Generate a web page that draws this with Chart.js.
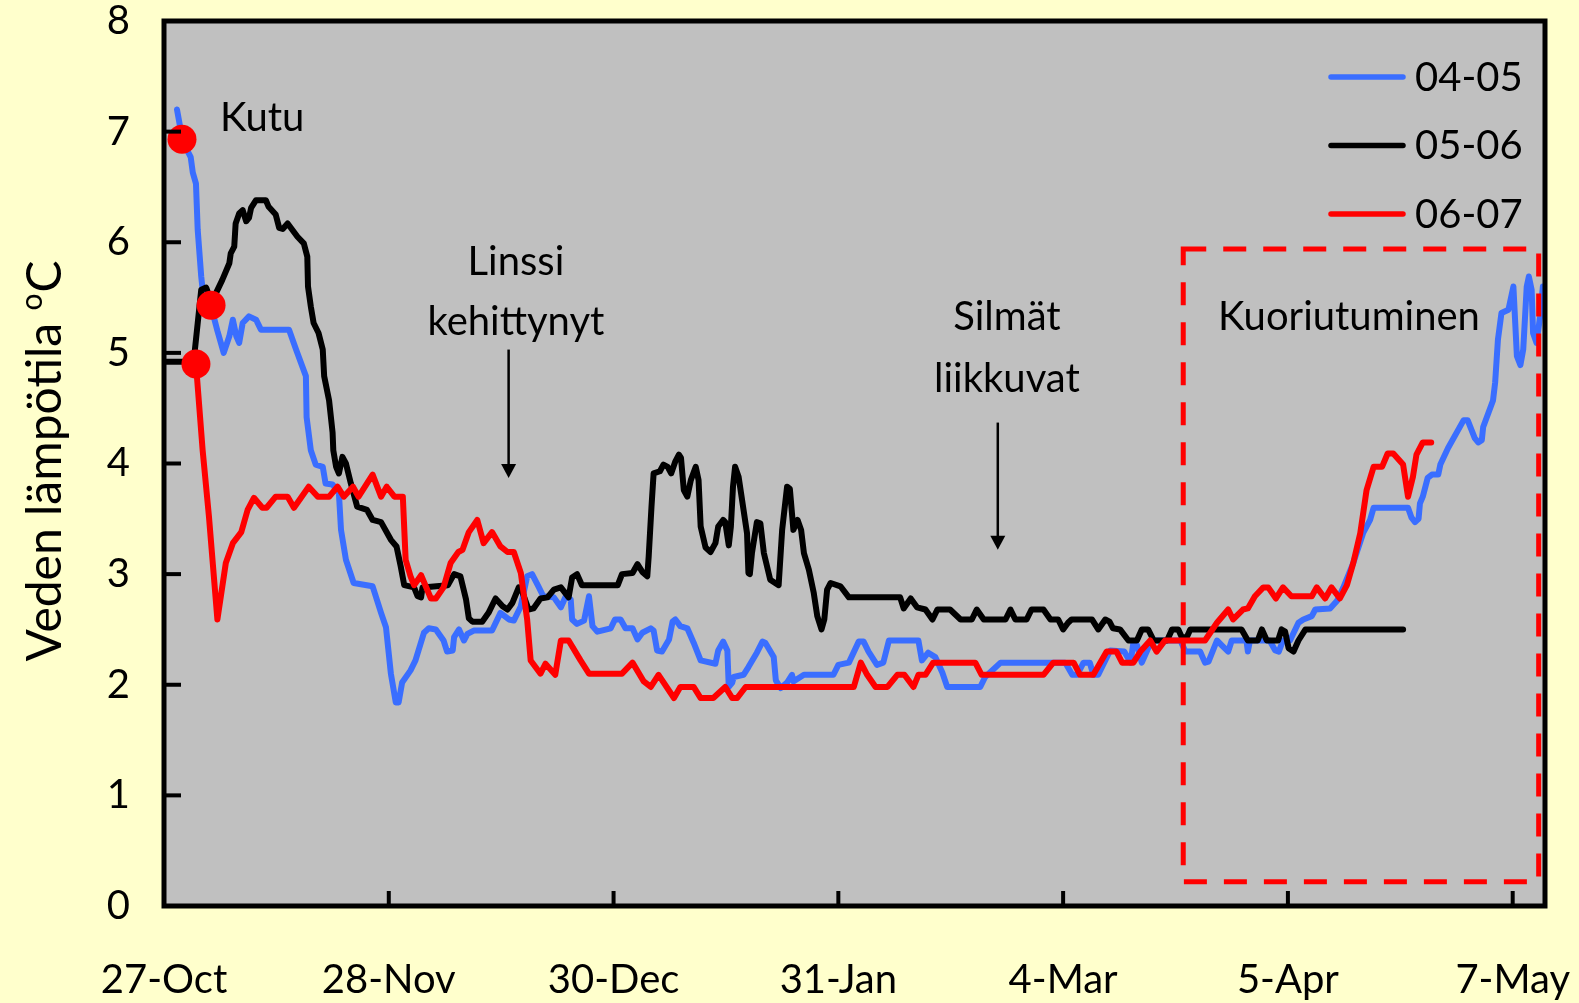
<!DOCTYPE html>
<html>
<head>
<meta charset="utf-8">
<script src="https://cdn.jsdelivr.net/npm/chart.js@4.4.1/dist/chart.umd.min.js"></script>
<style>
html,body{margin:0;padding:0;background:#FFFFCC;overflow:hidden;}
canvas{display:block;}
</style>
</head>
<body>
<canvas id="c" width="1579" height="1003"></canvas>
<script>
// X values are days since 27-Oct
const tickDays = [0, 32, 64, 96, 128, 160, 192];
const tickLabels = ['27-Oct', '28-Nov', '30-Dec', '31-Jan', '4-Mar', '5-Apr', '7-May'];
const yTicks = [0, 1, 2, 3, 4, 5, 6, 7, 8];
const seriesNames = ['04-05', '05-06', '06-07'];

const days0405 = [1.85,2.56,3.4,3.8,4.1,4.55,4.8,5.3,5.5,6.7,7.6,8.5,9.3,9.8,10.3,10.7,11.2,12.1,13.1,13.8,17.8,18.8,20.2,20.3,20.9,21.6,22.6,23.0,24.0,24.9,25.2,25.9,27.0,29.7,30.9,31.6,32.3,33.0,33.4,33.9,35.1,35.8,37.0,37.7,38.7,39.8,40.3,41.1,41.3,42.0,42.7,43.2,44.1,46.7,47.9,49.1,49.8,50.8,51.7,52.4,53.3,54.0,55.5,56.5,57.2,57.9,58.1,58.8,59.8,60.5,61.0,61.7,63.6,64.2,65.0,65.7,66.7,67.4,68.1,69.3,69.7,70.2,70.9,71.9,72.4,72.8,73.5,74.5,75.4,76.4,78.5,78.9,79.6,80.2,80.4,80.9,81.1,82.5,83.2,84.4,85.2,85.6,86.8,87.1,87.8,88.7,89.4,89.6,91.1,95.3,96.0,97.5,98.9,99.6,100.3,101.5,102.4,103.2,107.4,107.9,108.8,109.8,110.8,111.5,116.2,116.9,119.1,128.3,129.3,130.0,130.9,131.8,132.3,133.0,134.7,136.7,137.6,138.0,138.5,139.2,139.9,140.6,144.7,145.4,147.5,148.2,148.7,149.9,150.7,151.5,152.0,154.1,154.3,154.6,157.4,158.2,158.7,159.3,160.3,161.5,162.2,163.4,163.9,166.0,167.0,167.9,169.3,170.7,171.7,172.2,177.1,177.6,178.1,178.6,178.8,179.2,179.9,180.5,181.4,181.7,182.8,185.0,185.6,186.6,187.1,187.6,187.8,189.2,189.5,189.9,190.4,191.4,192.1,192.6,193.1,193.5,194.0,194.3,194.7,194.9,195.4,195.9,196.3];
const temps0405 = [7.2,6.95,6.82,6.77,6.63,6.53,6.11,5.69,5.57,5.42,5.2,5.0,5.15,5.3,5.15,5.09,5.27,5.33,5.3,5.21,5.21,5.03,4.79,4.42,4.12,3.99,3.97,3.82,3.81,3.73,3.40,3.13,2.92,2.89,2.65,2.52,2.1,1.84,1.84,2.02,2.13,2.22,2.47,2.51,2.5,2.4,2.3,2.31,2.43,2.5,2.4,2.46,2.49,2.49,2.65,2.59,2.58,2.71,2.98,3.0,2.89,2.8,2.79,2.7,2.8,2.77,2.59,2.55,2.58,2.8,2.53,2.48,2.51,2.59,2.59,2.51,2.51,2.41,2.47,2.51,2.49,2.31,2.3,2.41,2.57,2.59,2.53,2.51,2.38,2.22,2.19,2.31,2.39,2.31,1.98,2.02,2.07,2.09,2.16,2.29,2.39,2.38,2.25,2.04,1.97,2.02,2.09,2.03,2.09,2.09,2.18,2.2,2.39,2.39,2.3,2.18,2.2,2.4,2.4,2.22,2.29,2.25,2.11,1.98,1.98,2.07,2.2,2.2,2.09,2.09,2.2,2.2,2.09,2.09,2.31,2.3,2.2,2.38,2.36,2.2,2.3,2.4,2.4,2.3,2.3,2.2,2.21,2.4,2.35,2.3,2.4,2.4,2.3,2.4,2.4,2.31,2.3,2.4,2.4,2.56,2.59,2.62,2.68,2.69,2.76,2.88,3.1,3.37,3.49,3.6,3.6,3.51,3.47,3.5,3.64,3.7,3.87,3.9,3.9,3.99,4.14,4.39,4.39,4.23,4.19,4.21,4.33,4.57,4.73,5.12,5.36,5.39,5.6,4.97,4.89,5.03,5.6,5.69,5.57,5.18,5.09,5.33,5.6];

const days0506 = [0,3.9,4.3,4.8,5.3,6.0,6.5,7.4,8.3,9.3,9.5,10.0,10.2,10.7,11.2,11.7,12.1,12.4,13.1,14.5,14.9,15.9,16.4,16.9,17.6,19.0,19.9,20.4,20.5,20.9,21.3,22.0,22.6,22.8,23.5,24.0,24.1,24.5,24.9,25.4,25.9,26.6,27.5,28.9,29.7,30.9,32.3,33.1,33.7,34.2,35.6,36.1,36.6,36.8,40.4,41.3,42.2,43.0,43.4,43.9,45.3,46.2,47.2,48.2,48.9,49.6,50.5,51.0,51.9,52.6,53.6,54.6,55.5,56.5,57.6,58.1,58.8,59.5,64.6,65.2,66.7,67.4,68.1,68.8,69.0,69.4,69.7,70.6,71.1,71.7,72.2,72.8,73.3,73.6,74.0,74.5,75.0,75.7,76.1,76.4,77.1,77.8,78.5,78.9,79.6,79.9,80.4,80.7,81.0,81.3,81.8,83.0,83.2,83.4,83.7,84.4,84.9,85.4,86.3,87.5,88.0,88.7,89.1,89.6,90.2,90.7,91.1,91.8,92.5,93.0,93.6,94.0,94.4,94.9,96.3,97.5,104.8,105.3,106.3,107.2,108.4,109.4,110.1,111.9,113.4,115.0,115.7,116.7,119.8,120.5,121.2,122.8,123.5,125.2,126.2,127.3,128.0,128.7,129.2,132.1,133.0,134.0,134.6,135.1,136.1,137.3,138.5,139.2,140.1,140.9,142.8,143.5,144.4,144.9,145.6,146.1,153.4,154.3,155.7,156.3,157.0,158.6,159.1,159.6,160.1,160.8,161.5,162.5,176.4];
const temps0506 = [4.92,4.92,4.97,5.27,5.57,5.59,5.5,5.54,5.66,5.81,5.9,5.96,6.17,6.26,6.29,6.19,6.22,6.31,6.38,6.38,6.32,6.25,6.13,6.12,6.17,6.05,5.99,5.87,5.6,5.42,5.27,5.18,5.03,4.79,4.57,4.28,4.12,3.97,3.91,4.06,4.0,3.82,3.61,3.58,3.49,3.47,3.31,3.25,3.07,2.9,2.88,2.8,2.79,2.88,2.9,3.0,2.98,2.77,2.6,2.57,2.57,2.65,2.78,2.71,2.68,2.74,2.88,2.84,2.68,2.69,2.78,2.79,2.86,2.88,2.79,2.97,3.0,2.9,2.9,3.0,3.01,3.09,3.02,2.98,3.16,3.61,3.91,3.93,3.99,3.97,3.91,4.02,4.08,4.05,3.76,3.7,3.85,3.97,3.85,3.43,3.24,3.2,3.28,3.43,3.49,3.47,3.26,3.43,3.79,3.97,3.88,3.37,3.01,3.0,3.19,3.47,3.46,3.19,2.95,2.9,3.4,3.79,3.77,3.4,3.49,3.4,3.19,3.04,2.83,2.62,2.5,2.59,2.86,2.92,2.89,2.79,2.79,2.69,2.78,2.7,2.68,2.59,2.68,2.68,2.59,2.59,2.68,2.59,2.59,2.68,2.59,2.59,2.68,2.68,2.59,2.59,2.5,2.56,2.59,2.59,2.5,2.59,2.57,2.51,2.5,2.4,2.4,2.5,2.5,2.4,2.4,2.5,2.5,2.43,2.43,2.5,2.5,2.4,2.4,2.5,2.4,2.4,2.5,2.48,2.33,2.3,2.4,2.5,2.5];

const days0607 = [4.55,5.5,6.4,7.6,8.8,9.8,11.0,11.9,12.8,14.0,14.6,15.9,17.6,18.5,20.6,21.9,23.5,24.7,25.6,26.9,27.7,29.7,30.9,31.7,32.8,34.0,34.4,35.1,35.6,36.6,38.0,38.7,39.8,40.8,41.9,42.5,43.4,44.6,45.5,46.7,47.9,48.9,49.8,50.8,51.7,52.2,53.6,54.3,55.7,56.5,57.6,59.3,60.5,65.2,66.7,68.3,69.3,70.4,72.6,73.5,75.4,76.4,78.2,79.9,80.9,81.6,82.8,98.2,99.2,100.1,101.3,103.0,104.4,105.4,106.7,107.4,108.4,109.5,115.5,116.4,125.2,126.6,129.5,130.4,132.3,134.2,135.6,136.4,138.0,139.0,140.4,141.3,142.5,148.2,149.9,151.5,152.2,153.6,154.3,155.3,156.5,157.2,158.3,159.3,160.5,163.4,164.1,165.3,166.2,167.4,168.4,169.3,170.3,171.2,172.2,173.4,174.2,175.0,176.4,177.1,177.8,178.3,179.2,180.4];
const temps0607 = [4.9,4.12,3.52,2.59,3.1,3.28,3.38,3.58,3.69,3.6,3.6,3.7,3.7,3.6,3.79,3.7,3.7,3.79,3.7,3.79,3.7,3.9,3.7,3.79,3.7,3.7,3.13,2.98,2.9,2.99,2.78,2.78,2.88,3.1,3.2,3.22,3.38,3.49,3.28,3.38,3.25,3.2,3.2,3.01,2.59,2.22,2.1,2.19,2.09,2.4,2.4,2.22,2.1,2.1,2.2,2.03,1.98,2.09,1.88,1.98,1.98,1.88,1.88,1.98,1.88,1.88,1.98,1.98,2.2,2.09,1.98,1.98,2.09,2.09,1.98,2.09,2.09,2.2,2.2,2.09,2.09,2.2,2.2,2.09,2.09,2.3,2.3,2.2,2.2,2.3,2.4,2.3,2.4,2.4,2.56,2.68,2.59,2.68,2.69,2.8,2.88,2.88,2.78,2.88,2.8,2.8,2.88,2.78,2.88,2.78,2.9,3.1,3.37,3.76,3.97,3.97,4.09,4.09,3.99,3.7,3.88,4.08,4.19,4.19];

// Spawning ("Kutu") markers
const kutuDays = [2.56, 6.7, 4.55];
const kutuTemps = [6.93, 5.43, 4.9];

const colors = { '04-05': '#3A6EFF', '05-06': '#000000', '06-07': '#FF0000' };
const FONT = 'Lato, "Open Sans", sans-serif';

function zip(xs, ys) { return xs.map((x, i) => ({ x: x, y: ys[i] })); }

const lineStyle = { borderWidth: 6, pointRadius: 0, tension: 0, fill: false, borderJoinStyle: 'round', borderCapStyle: 'round' };

const datasets = [
  { label: 'Kutu', data: zip(kutuDays, kutuTemps), showLine: false, pointRadius: 14.5, pointBackgroundColor: '#FF0000', pointBorderWidth: 0, borderColor: '#FF0000', order: 0, isMarker: true },
  Object.assign({ label: seriesNames[2], data: zip(days0607, temps0607), borderColor: colors['06-07'], order: 1 }, lineStyle),
  Object.assign({ label: seriesNames[1], data: zip(days0506, temps0506), borderColor: colors['05-06'], order: 2 }, lineStyle),
  Object.assign({ label: seriesNames[0], data: zip(days0405, temps0405), borderColor: colors['04-05'], order: 3 }, lineStyle)
];

const bgPlugin = {
  id: 'bg',
  beforeDraw(chart) {
    const c = chart.ctx, a = chart.chartArea;
    c.save();
    c.fillStyle = '#FFFFCC';
    c.fillRect(0, 0, chart.width, chart.height);
    c.fillStyle = '#C0C0C0';
    c.fillRect(a.left, a.top, a.right - a.left, a.bottom - a.top);
    c.restore();
  }
};

function arrow(c, x, y1, y2) {
  c.save();
  c.strokeStyle = '#000'; c.fillStyle = '#000'; c.lineWidth = 2.5;
  c.beginPath(); c.moveTo(x, y1); c.lineTo(x, y2 - 12); c.stroke();
  c.beginPath(); c.moveTo(x - 7.5, y2 - 14); c.lineTo(x + 7.5, y2 - 14); c.lineTo(x, y2); c.closePath(); c.fill();
  c.restore();
}

const decoPlugin = {
  id: 'deco',
  afterDatasetsDraw(chart) {
    const c = chart.ctx, a = chart.chartArea;
    const xs = chart.scales.x, ys = chart.scales.y;
    c.save();
    // dashed hatching-period box
    c.strokeStyle = '#FF0000'; c.lineWidth = 5; c.setLineDash([23, 17]);
    const rx1 = xs.getPixelForValue(145.1), rx2 = xs.getPixelForValue(195.7);
    const ry1 = ys.getPixelForValue(5.94), ry2 = ys.getPixelForValue(0.22);
    c.strokeRect(rx1, ry1, rx2 - rx1, ry2 - ry1);
    c.setLineDash([]);
    // frame
    c.strokeStyle = '#000'; c.lineWidth = 5;
    c.strokeRect(a.left, a.top, a.right - a.left, a.bottom - a.top);
    // inside tick marks
    c.lineWidth = 4; c.lineCap = 'butt';
    ys.ticks.forEach(t => {
      const y = ys.getPixelForValue(t.value);
      c.beginPath(); c.moveTo(a.left, y); c.lineTo(a.left + 17, y); c.stroke();
    });
    xs.ticks.forEach(t => {
      const x = xs.getPixelForValue(t.value);
      c.beginPath(); c.moveTo(x, a.bottom); c.lineTo(x, a.bottom - 15); c.stroke();
    });
    // annotations
    c.fillStyle = '#000';
    c.font = '40px ' + FONT;
    c.textAlign = 'center'; c.textBaseline = 'middle';
    const T = (txt, d, v) => c.fillText(txt, xs.getPixelForValue(d), ys.getPixelForValue(v));
    T('Kutu', 13.97, 7.12);
    T('Linssi', 50.1, 5.82);
    T('kehittynyt', 50.1, 5.28);
    T('Silmät', 120.0, 5.32);
    T('liikkuvat', 120.0, 4.76);
    T('Kuoriutuminen', 168.7, 5.32);
    arrow(c, xs.getPixelForValue(49.06), ys.getPixelForValue(5.03), ys.getPixelForValue(3.87));
    arrow(c, xs.getPixelForValue(118.7), ys.getPixelForValue(4.37), ys.getPixelForValue(3.22));
    // legend
    c.textAlign = 'left';
    const legendDs = chart.data.datasets.filter(d => !d.isMarker).sort((p, q) => seriesNames.indexOf(p.label) - seriesNames.indexOf(q.label));
    legendDs.forEach((d, i) => {
      const y = a.top + 56 + i * 68.5;
      c.strokeStyle = d.borderColor; c.lineWidth = 5.5; c.lineCap = 'round';
      c.beginPath(); c.moveTo(a.right - 214, y); c.lineTo(a.right - 142, y); c.stroke();
      c.fillStyle = '#000';
      c.fillText(d.label, a.right - 130, y + 1);
    });
    c.restore();
  },
  afterDraw(chart) {
    const c = chart.ctx, a = chart.chartArea;
    c.save();
    c.fillStyle = '#000';
    const big = '48px ' + FONT, small = '30px ' + FONT;
    c.font = big;
    const t1 = 'Veden lämpötila ', t3 = 'C';
    const w1 = c.measureText(t1).width, w3 = c.measureText(t3).width;
    c.font = small;
    const w2 = c.measureText('o').width;
    const total = w1 + w2 + w3;
    c.translate(61, (a.top + a.bottom) / 2 - 2);
    c.rotate(-Math.PI / 2);
    c.textBaseline = 'alphabetic'; c.textAlign = 'left';
    let x = -total / 2;
    c.font = big; c.fillText(t1, x, 0); x += w1;
    c.font = small; c.fillText('o', x, -19); x += w2 + 1;
    c.font = big; c.fillText(t3, x, 0);
    c.restore();
  }
};

function noPad(s) { s.paddingTop = 0; s.paddingBottom = 0; s.paddingLeft = 0; s.paddingRight = 0; }

new Chart(document.getElementById('c').getContext('2d'), {
  type: 'line',
  data: { datasets: datasets },
  options: {
    responsive: false,
    animation: false,
    devicePixelRatio: 1,
    layout: { padding: { top: 21, right: 34, left: 0, bottom: 0 } },
    plugins: { legend: { display: false }, tooltip: { enabled: false } },
    scales: {
      x: {
        type: 'linear', min: 0, max: 196.6,
        afterBuildTicks: s => { s.ticks = tickDays.map(v => ({ value: v })); },
        afterFit: s => { s.height = 97; noPad(s); },
        grid: { display: false, drawTicks: false },
        border: { display: false },
        ticks: { autoSkip: false, maxRotation: 0, padding: 50, color: '#000', font: { family: FONT, size: 40 }, callback: (v, i) => tickLabels[i] }
      },
      y: {
        type: 'linear', min: 0, max: 8,
        afterBuildTicks: s => { s.ticks = yTicks.map(v => ({ value: v })); },
        afterFit: s => { s.width = 164; noPad(s); },
        grid: { display: false, drawTicks: false },
        border: { display: false },
        ticks: { padding: 34, color: '#000', font: { family: FONT, size: 40 } }
      }
    }
  },
  plugins: [bgPlugin, decoPlugin]
});
</script>
</body>
</html>
